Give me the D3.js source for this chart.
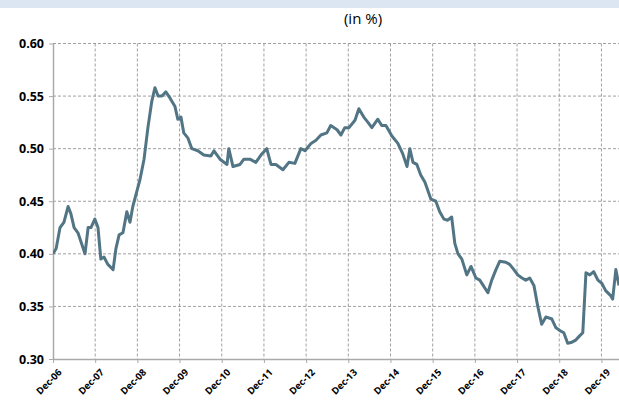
<!DOCTYPE html>
<html><head><meta charset="utf-8">
<script src="https://cdn.jsdelivr.net/npm/d3@7"></script>
<style>body{margin:0;background:#fff}svg{display:block}</style></head>
<body><svg id="c" width="619" height="403"></svg>
<script>
const months=[0,0.9,2.0,3.1,4.3,5.1,6.0,7.1,9.1,10.0,10.8,11.9,12.8,13.6,14.5,15.6,17.1,17.9,18.8,19.9,21.0,21.9,22.7,23.9,24.7,25.9,27.0,28.1,29.0,29.9,31.0,32.1,33.3,34.7,35.5,36.4,37.2,38.4,39.5,41.2,42.9,44.9,45.8,47.5,49.5,50.0,51.2,53.2,54.3,56.0,57.7,59.4,60.8,62.0,63.4,65.4,67.1,68.8,70.5,71.7,73.4,74.8,76.2,77.9,79.0,80.8,81.9,83.0,84.2,85.9,87.0,88.4,89.6,90.7,92.4,93.5,94.7,96.4,98.1,99.5,100.7,101.5,102.4,103.5,104.6,105.8,107.5,108.9,110.0,111.2,112.3,113.4,114.3,115.2,116.3,117.7,118.9,120.3,121.4,123.7,124.8,126.0,127.1,128.8,129.9,131.1,132.2,133.4,134.5,135.6,136.8,137.9,139.0,140.2,141.9,143.0,144.2,145.3,146.4,147.6,148.7,149.8,150.7,151.6,152.7,153.8,155.0,156.1,157.2,158.7,159.2,160.1,161.0];
const values=[0.40,0.405,0.425,0.43,0.445,0.438,0.425,0.42,0.40,0.425,0.425,0.433,0.425,0.395,0.397,0.39,0.385,0.405,0.418,0.42,0.44,0.43,0.445,0.46,0.47,0.49,0.52,0.545,0.558,0.55,0.55,0.554,0.548,0.54,0.528,0.53,0.515,0.51,0.50,0.498,0.494,0.493,0.498,0.49,0.485,0.50,0.483,0.485,0.49,0.49,0.487,0.495,0.50,0.485,0.485,0.48,0.487,0.486,0.50,0.498,0.505,0.508,0.513,0.515,0.522,0.518,0.513,0.52,0.52,0.527,0.538,0.53,0.525,0.52,0.528,0.522,0.522,0.512,0.505,0.495,0.483,0.50,0.487,0.485,0.475,0.468,0.452,0.45,0.44,0.433,0.432,0.435,0.41,0.40,0.395,0.38,0.388,0.377,0.375,0.363,0.375,0.385,0.393,0.392,0.39,0.385,0.38,0.377,0.375,0.377,0.37,0.35,0.333,0.34,0.338,0.33,0.327,0.325,0.315,0.316,0.318,0.322,0.325,0.382,0.38,0.383,0.375,0.372,0.365,0.36,0.357,0.385,0.37];
const tickMonths=[0,12,24,36,48,60,72,84,96,108,120,132,144,156];
const tickLabels=["Dec-06","Dec-07","Dec-08","Dec-09","Dec-10","Dec-11","Dec-12","Dec-13","Dec-14","Dec-15","Dec-16","Dec-17","Dec-18","Dec-19"];
const yTicks=[0.30,0.35,0.40,0.45,0.50,0.55,0.60];

const svg=d3.select("#c");
svg.append("rect").attr("x",0).attr("y",0).attr("width",619).attr("height",8).attr("fill","#dce6f2");
svg.append("text").attr("x",363).attr("y",24).attr("text-anchor","middle").attr("font-family","Open Sans, sans-serif").attr("font-size",15).text("(in %)");
const x=d3.scaleLinear().domain([0,161]).range([53,619]);
const y=d3.scaleLinear().domain([0.30,0.60]).range([359,43.5]);
const g=svg.append("g");
g.selectAll(".hg").data(yTicks.slice(1)).join("line").attr("x1",53).attr("x2",619).attr("y1",d=>y(d)).attr("y2",d=>y(d)).attr("stroke","#888").attr("stroke-dasharray","3,2").attr("stroke-width",0.8);
g.selectAll(".vg").data(tickMonths.slice(1)).join("line").attr("x1",d=>x(d)).attr("x2",d=>x(d)).attr("y1",y(0.60)).attr("y2",y(0.30)).attr("stroke","#888").attr("stroke-dasharray","3,2").attr("stroke-width",0.8);
const ya=svg.append("g").attr("transform","translate(53,0)").call(d3.axisLeft(y).tickValues(yTicks).tickFormat(d3.format(".2f")).tickSize(4).tickSizeOuter(0));
ya.select(".domain").attr("stroke","#aaa").attr("stroke-width",1.5);
ya.selectAll(".tick line").attr("stroke","#aaa");
ya.selectAll("text").attr("font-family","Open Sans, sans-serif").attr("font-weight","bold").attr("font-size",12.5).attr("fill","#000").attr("x",-9);
const xa=svg.append("g").attr("transform","translate(0,359)").call(d3.axisBottom(x).tickValues(tickMonths).tickFormat((d,i)=>tickLabels[i]).tickSize(4).tickSizeOuter(0));
xa.select(".domain").attr("stroke","#aaa").attr("stroke-width",1.5);
xa.selectAll(".tick line").attr("stroke","#aaa");
xa.selectAll("text").attr("font-family","Open Sans, sans-serif").attr("font-weight","bold").attr("font-size",9.5).attr("fill","#000")
  .attr("text-anchor","end").attr("dy",0).attr("transform","translate(4,9) rotate(-45)");
svg.append("clipPath").attr("id","cl").append("rect").attr("x",53).attr("y",0).attr("width",566).attr("height",403);
svg.append("path").datum(months.map((m,i)=>[m,values[i]])).attr("clip-path","url(#cl)")
  .attr("d",d3.line().x(d=>x(d[0])).y(d=>y(d[1]))).attr("fill","none").attr("stroke","#527585").attr("stroke-width",3).attr("stroke-linejoin","round");
</script></body></html>
